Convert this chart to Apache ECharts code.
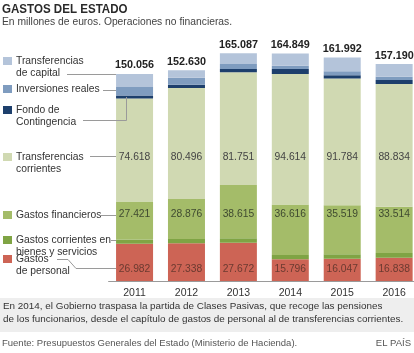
<!DOCTYPE html>
<html>
<head>
<meta charset="utf-8">
<script src="https://cdn.jsdelivr.net/npm/echarts@6/dist/echarts.min.js"></script>
<style>
  html, body { margin: 0; padding: 0; background: #fff; }
  #chart { width: 414px; height: 353px; }
</style>
</head>
<body>
<div id="chart"></div>
<script>
var years = ['2011', '2012', '2013', '2014', '2015', '2016']
var personal = [26982, 27338, 27672, 15796, 16047, 16838]
var bienes = [3135, 3120, 3259, 3023, 3412, 3504]
var financieros = [27421, 28876, 38615, 36616, 35519, 33514]
var corrientes = [74618, 80496, 81751, 94614, 91784, 88834]
var fondo = [2300, 2300, 2400, 3500, 2400, 2900]
var inversiones = [6100, 5200, 3630, 2400, 2900, 2400]
var capital = [9500, 5300, 7760, 8900, 9930, 9200]
var totals = [150056, 152630, 165087, 164849, 161992, 157190]

var FONT = '"Liberation Sans", Arial, sans-serif'

function fmt(v) {
  return String(v).replace(/\B(?=(\d{3})+(?!\d))/g, '.')
}

// cifras alineadas a una misma altura en todas las barras, como en el original
function fixedLabel(y, color) {
  return {
    label: {
      show: true,
      position: 'inside',
      color: color,
      fontSize: 10.3,
      fontFamily: FONT,
      formatter: function(p) { return fmt(p.value) }
    },
    labelLayout: function(params) {
      return {
        x: params.rect.x + params.rect.width / 2,
        y: y,
        align: 'center',
        verticalAlign: 'middle'
      }
    }
  }
}

function bar(name, data, color, extra) {
  var s = {
    name: name,
    type: 'bar',
    stack: 'total',
    barWidth: 37,
    data: data,
    itemStyle: { color: color },
    silent: true
  }
  if (extra) Object.assign(s, extra)
  return s
}

// leyenda a mano (texto en dos líneas y líneas guía)
var legendItems = [
  { color: '#b4c4da', lines: ['Transferencias', 'de capital'], y: 61 },
  { color: '#7f9cbf', lines: ['Inversiones reales'], y: 89 },
  { color: '#1d3f6c', lines: ['Fondo de', 'Contingencia'], y: 110 },
  { color: '#d0d9b2', lines: ['Transferencias', 'corrientes'], y: 157 },
  { color: '#a4bc69', lines: ['Gastos financieros'], y: 215 },
  { color: '#7fa444', lines: ['Gastos corrientes en', 'bienes y servicios'], y: 240 },
  { color: '#cd6455', lines: ['Gastos', 'de personal'], y: 259 }
]

var guides = [
  [[67, 74.5], [116, 74.5]],
  [[103, 90.5], [116, 90.5]],
  [[83, 120.5], [126.5, 120.5], [126.5, 97]],
  [[90, 156.5], [116, 156.5]],
  [[100, 215.5], [116, 215.5]],
  [[111, 240.5], [116, 240.5]],
  [[57, 259.5], [68, 259.5], [76, 268.5], [116, 268.5]]
]

var graphic = [
  { type: 'text', x: 2, y: 3, scaleX: 0.89, style: { text: 'GASTOS DEL ESTADO', font: 'bold 13px ' + FONT, fill: '#2a2a2a' } },
  { type: 'text', x: 2, y: 17, style: { text: 'En millones de euros. Operaciones no financieras.', font: '10.3px ' + FONT, fill: '#444' } },
  { type: 'rect', shape: { x: 0, y: 298, width: 414, height: 34 }, style: { fill: '#eeeeee' }, z: -1 },
  { type: 'text', x: 3, y: 299.5, style: { text: 'En 2014, el Gobierno traspasa la partida de Clases Pasivas, que recoge las pensiones\nde los funcionarios, desde el capítulo de gastos de personal al de transferencias corrientes.', font: '9.9px ' + FONT, fill: '#333', lineHeight: 13 } },
  { type: 'text', x: 2, y: 338, style: { text: 'Fuente: Presupuestos Generales del Estado (Ministerio de Hacienda).', font: '9.5px ' + FONT, fill: '#555' } },
  { type: 'text', right: 3, top: 338, style: { text: 'EL PAÍS', font: '9.5px ' + FONT, fill: '#555' } }
]

legendItems.forEach(function(it) {
  graphic.push({ type: 'rect', shape: { x: 3, y: it.y - 4, width: 9, height: 8 }, style: { fill: it.color } })
  graphic.push({
    type: 'text', x: 16, y: it.y - 6,
    style: { text: it.lines.join('\n'), font: '10.3px ' + FONT, fill: '#333', lineHeight: 12 }
  })
})

guides.forEach(function(pts) {
  graphic.push({ type: 'polyline', shape: { points: pts }, style: { stroke: '#9a9a9a', lineWidth: 1, fill: null }, z: 10 })
})

var chart = echarts.init(document.getElementById('chart'), null, { renderer: 'canvas' })
chart.setOption({
  animation: false,
  textStyle: { fontFamily: FONT },
  grid: { left: 108.6, top: 46.4, width: 311.5, height: 234.6, outerBoundsMode: 'none', containLabel: false },
  xAxis: {
    type: 'category',
    data: years,
    axisLine: { lineStyle: { color: '#9a9a9a', width: 1 } },
    axisTick: { show: false },
    axisLabel: { color: '#333', fontSize: 10.5, margin: 7 }
  },
  yAxis: {
    type: 'value',
    min: 0,
    max: 170000,
    show: false,
    splitLine: { show: false }
  },
  series: [
    bar('Gastos de personal', personal, '#cd6455', fixedLabel(269, '#6b3a30')),
    bar('Gastos corrientes en bienes y servicios', bienes, '#7fa444'),
    bar('Gastos financieros', financieros, '#a4bc69', fixedLabel(214.5, '#3f4a30')),
    bar('Transferencias corrientes', corrientes, '#d0d9b2', fixedLabel(157, '#444')),
    bar('Fondo de Contingencia', fondo, '#1d3f6c'),
    bar('Inversiones reales', inversiones, '#7f9cbf'),
    bar('Transferencias de capital', capital, '#b4c4da', {
      label: {
        show: true,
        position: 'top',
        distance: 3,
        color: '#222',
        fontSize: 10.8,
        fontWeight: 'bold',
        formatter: function(p) { return fmt(totals[p.dataIndex]) }
      }
    })
  ],
  graphic: graphic
})
</script>
</body>
</html>
